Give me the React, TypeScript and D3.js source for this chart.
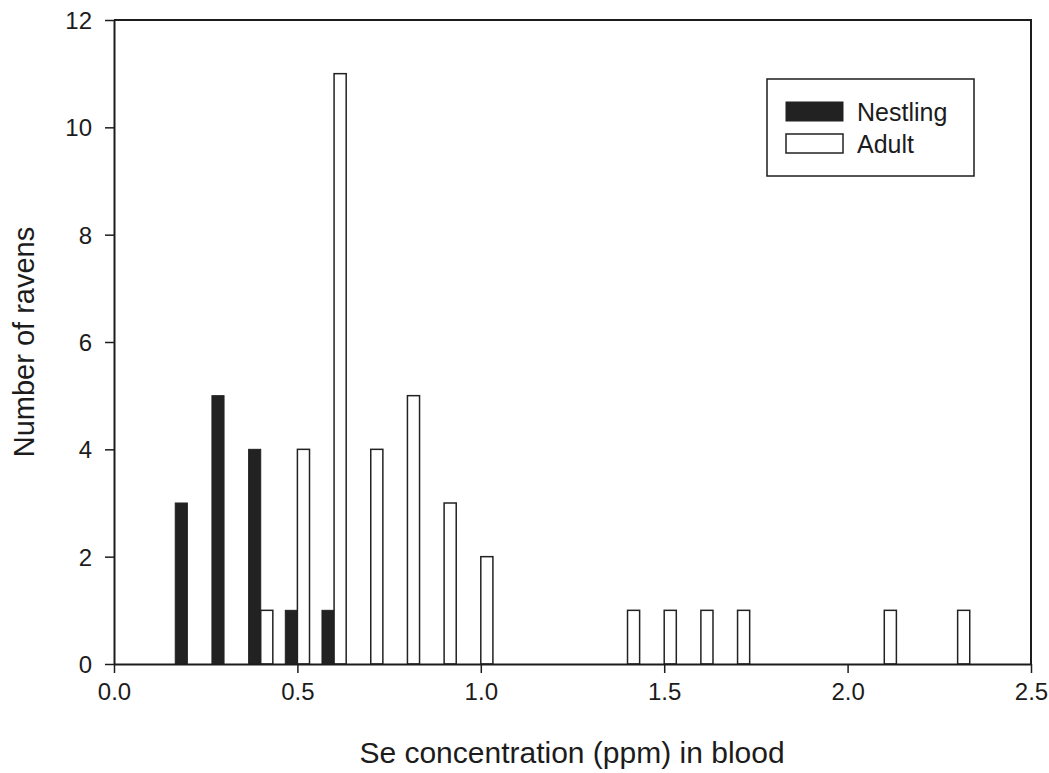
import React, { useEffect, useRef } from 'react';
import * as d3 from 'd3';

// Se concentration bins (ppm) and counts per age class
const nestlingBins = [0.2, 0.3, 0.4, 0.5, 0.6];
const nestlingCounts = [3, 5, 4, 1, 1];
const adultBins = [0.4, 0.5, 0.6, 0.7, 0.8, 0.9, 1.0, 1.4, 1.5, 1.6, 1.7, 2.1, 2.3];
const adultCounts = [1, 4, 11, 4, 5, 3, 2, 1, 1, 1, 1, 1, 1];
const xTicks = [0, 0.5, 1.0, 1.5, 2.0, 2.5];
const yTicks = [0, 2, 4, 6, 8, 10, 12];
const seriesNames = ['Nestling', 'Adult'];

export default function App() {
  const svgRef = useRef<SVGSVGElement>(null);

  const width = 1049;
  const height = 773;
  const margin = { top: 20, right: 18, bottom: 109, left: 114 };
  const barW = 0.033; // bar width in ppm units
  const font = 'Arial, "Liberation Sans", sans-serif';
  const ink = '#1c1c1c';

  useEffect(() => {
    const svg = d3.select(svgRef.current);
    svg.selectAll('*').remove();
    svg.attr('width', width).attr('height', height);

    const x = d3
      .scaleLinear()
      .domain([0, 2.5])
      .range([margin.left, width - margin.right]);
    const y = d3
      .scaleLinear()
      .domain([0, 12])
      .range([height - margin.bottom, margin.top]);

    const nestling = nestlingBins.map((b, i) => ({ b, v: nestlingCounts[i] }));
    const adult = adultBins.map((b, i) => ({ b, v: adultCounts[i] }));

    // nestling bars sit left of the bin value
    svg
      .append('g')
      .selectAll('rect')
      .data(nestling)
      .enter()
      .append('rect')
      .attr('x', (d) => x(d.b - barW))
      .attr('y', (d) => y(d.v))
      .attr('width', x(barW) - x(0))
      .attr('height', (d) => y(0) - y(d.v))
      .attr('fill', '#222')
      .attr('stroke', '#222')
      .attr('stroke-width', 1);

    // adult bars sit right of the bin value
    svg
      .append('g')
      .selectAll('rect')
      .data(adult)
      .enter()
      .append('rect')
      .attr('x', (d) => x(d.b))
      .attr('y', (d) => y(d.v))
      .attr('width', x(barW) - x(0))
      .attr('height', (d) => y(0) - y(d.v))
      .attr('fill', '#fff')
      .attr('stroke', '#222')
      .attr('stroke-width', 1.5);

    // axes
    const xAxis = svg
      .append('g')
      .attr('transform', `translate(0,${y(0)})`)
      .call(
        d3
          .axisBottom(x)
          .tickValues(xTicks)
          .tickFormat(d3.format('.1f'))
          .tickSize(9)
          .tickSizeOuter(0)
          .tickPadding(10)
      );
    const yAxis = svg
      .append('g')
      .attr('transform', `translate(${x(0)},0)`)
      .call(
        d3
          .axisLeft(y)
          .tickValues(yTicks)
          .tickFormat(d3.format('d'))
          .tickSize(9)
          .tickSizeOuter(0)
          .tickPadding(13)
      );
    [xAxis, yAxis].forEach((g) => {
      g.select('.domain').attr('stroke', ink).attr('stroke-width', 2);
      g.selectAll('.tick line').attr('stroke', ink).attr('stroke-width', 1.5);
      g.selectAll('.tick text')
        .attr('font-family', font)
        .attr('font-size', 24)
        .attr('fill', ink);
    });
    yAxis.selectAll('.tick text').attr('dy', '0.36em');

    // top and right frame
    svg
      .append('path')
      .attr('d', `M${x(0)},${y(12)}H${x(2.5)}V${y(0)}`)
      .attr('fill', 'none')
      .attr('stroke', ink)
      .attr('stroke-width', 2);

    // axis titles
    svg
      .append('text')
      .attr('x', 572)
      .attr('y', 763)
      .attr('text-anchor', 'middle')
      .attr('font-family', font)
      .attr('font-size', 30)
      .attr('fill', ink)
      .text('Se concentration (ppm) in blood');

    svg
      .append('text')
      .attr('transform', `translate(34,${(y(0) + y(12)) / 2}) rotate(-90)`)
      .attr('text-anchor', 'middle')
      .attr('font-family', font)
      .attr('font-size', 29)
      .attr('fill', ink)
      .text('Number of ravens');

    // legend
    const lg = svg.append('g').attr('transform', 'translate(767,79)');
    lg.append('rect')
      .attr('width', 207)
      .attr('height', 97)
      .attr('fill', '#fff')
      .attr('stroke', ink)
      .attr('stroke-width', 1.5);
    const items = lg
      .selectAll('g.item')
      .data(seriesNames)
      .enter()
      .append('g')
      .attr('class', 'item')
      .attr('transform', (d, i) => `translate(19,${23 + i * 32})`);
    items
      .append('rect')
      .attr('width', 57)
      .attr('height', 19)
      .attr('fill', (d, i) => (i === 0 ? '#222' : '#fff'))
      .attr('stroke', '#222')
      .attr('stroke-width', (d, i) => (i === 0 ? 1 : 1.5));
    items
      .append('text')
      .attr('x', 71)
      .attr('y', 19)
      .attr('font-family', font)
      .attr('font-size', 25)
      .attr('fill', ink)
      .text((d) => d);
  }, []);

  return (
    <div style={{ position: 'absolute', left: 0, top: 0 }}>
      <svg ref={svgRef} style={{ display: 'block', background: '#fff' }}></svg>
    </div>
  );
}
